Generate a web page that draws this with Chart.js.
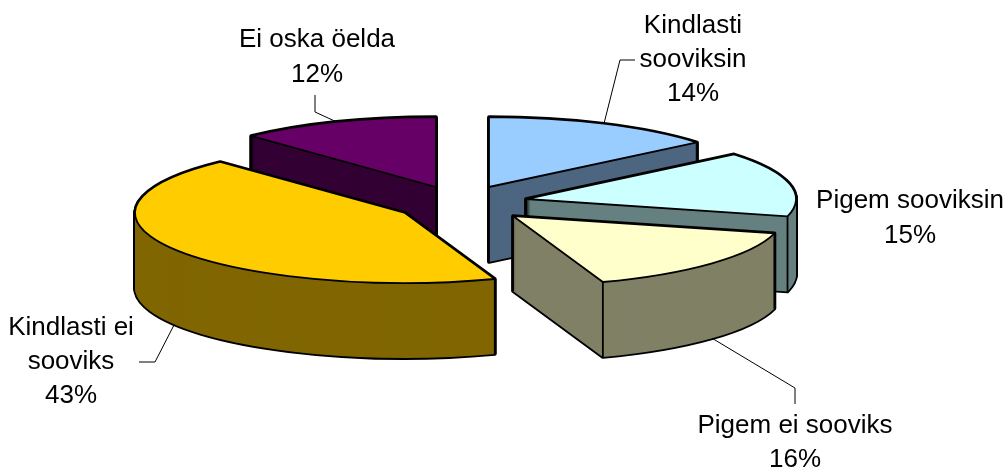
<!DOCTYPE html>
<html><head><meta charset="utf-8">
<script src="https://cdn.jsdelivr.net/npm/chart.js@4"></script>
<style>html,body{margin:0;padding:0;background:#fff}canvas{display:block}</style>
</head><body><canvas id="c" width="1006" height="468"></canvas>
<script>
const categories = ["Kindlasti sooviksin","Pigem sooviksin","Pigem ei sooviks","Kindlasti ei sooviks","Ei oska öelda"];
const percentLabels = ["14%","15%","16%","43%","12%"];
// unrounded shares; they round to the printed labels
const shares = [14,15,15.6,43.4,12];
const topColors = ["#99CCFF","#CCFFFF","#FFFFCC","#FFCC00","#660066"];
const wallColors = ["#4D6680","#668080","#808066","#806600","#330033"];

// view settings (pseudo-3D tilt, wall depth, slice explosion)
const tilt = 70/270, wallDepth = 75, pieRadius = 270;
const explodeX = [29,66,53,-55,-24];
const explodeY = [-16.5,-4.5,12.5,9.5,-16.5];
const paintOrder = [4,3,0,1,2];
const FONT = '26px "Liberation Sans", Arial, sans-serif';
const labelLayout = [
  {lines:["Kindlasti","sooviksin"],x:693,y:[33,67,101],elbow:[[620,60],[635,60]],front:false},
  {lines:["Pigem sooviksin"],x:910,y:[208,243]},
  {lines:["Pigem ei sooviks"],x:795,y:[433,467],elbow:[[795,388],[795,404]],front:true},
  {lines:["Kindlasti ei","sooviks"],x:71,y:[335,369,403],elbow:[[155,362],[139,362]],front:true},
  {lines:["Ei oska öelda"],x:317,y:[47,82],elbow:[[315,112],[315,95]],front:false}
];

function ellipsePath(ctx,arc,i,dy){
  const cx=arc.x+explodeX[i], cy=arc.y+explodeY[i]+dy;
  ctx.beginPath();
  ctx.moveTo(cx,cy);
  ctx.ellipse(cx,cy,arc.outerRadius,arc.outerRadius*tilt,0,arc.startAngle,arc.endAngle);
  ctx.closePath();
}
function fillArc(ctx,arc,i,dy,color){
  const ghost=Object.create(arc);
  ghost.options=Object.assign({},arc.options,{backgroundColor:color,borderWidth:0,offset:0,spacing:0});
  ctx.save();
  ctx.translate(arc.x+explodeX[i],arc.y+explodeY[i]+dy);
  ctx.scale(1,tilt);
  ctx.translate(-arc.x,-arc.y);
  arc.draw.call(ghost,ctx);
  ctx.restore();
}
function pointOn(arc,i,angle,dy){
  return [arc.x+explodeX[i]+Math.cos(angle)*arc.outerRadius,
          arc.y+explodeY[i]+dy+Math.sin(angle)*arc.outerRadius*tilt];
}
const EPS=1e-6;
const pie3d={
  id:'pie3d',
  beforeDatasetDraw(chart,args){
    const ctx=chart.ctx, arcs=args.meta.data;
    paintOrder.forEach(i=>{
      const arc=arcs[i];
      ctx.save();
      ctx.strokeStyle='#000';ctx.lineJoin='round';ctx.lineWidth=3.6;
      for(let d=0;d<=wallDepth;d+=1){ellipsePath(ctx,arc,i,d);ctx.stroke();}
      for(let d=wallDepth;d>=0;d-=1){fillArc(ctx,arc,i,d,wallColors[i]);}
      ctx.lineWidth=1.8;
      // a vertical edge shows only where a wall face next to it faces the viewer
      const startFace=Math.cos(arc.startAngle)<-EPS, endFace=Math.cos(arc.endAngle)>EPS;
      const corners=[];
      if(startFace||Math.sin(arc.startAngle)>EPS)corners.push(pointOn(arc,i,arc.startAngle,0));
      if(endFace||Math.sin(arc.endAngle)>EPS)corners.push(pointOn(arc,i,arc.endAngle,0));
      if(startFace||endFace)corners.push([arc.x+explodeX[i],arc.y+explodeY[i]]);
      corners.forEach(p=>{ctx.beginPath();ctx.moveTo(p[0],p[1]);ctx.lineTo(p[0],p[1]+wallDepth);ctx.stroke();});
      fillArc(ctx,arc,i,0,topColors[i]);
      ellipsePath(ctx,arc,i,0);ctx.stroke();
      ctx.restore();
    });
    return false;
  },
  afterDatasetsDraw(chart){
    const ctx=chart.ctx, arcs=chart.getDatasetMeta(0).data;
    ctx.save();
    labelLayout.forEach((l,i)=>{
      if(l.elbow){
        const arc=arcs[i], mid=(arc.startAngle+arc.endAngle)/2;
        const a=pointOn(arc,i,mid,l.front?wallDepth:0);
        ctx.strokeStyle='#000';ctx.lineWidth=1;
        ctx.beginPath();ctx.moveTo(a[0],a[1]);
        l.elbow.forEach(p=>ctx.lineTo(p[0],p[1]));
        ctx.stroke();
      }
      ctx.fillStyle='#000';ctx.font=FONT;ctx.textAlign='center';ctx.textBaseline='alphabetic';
      const rows=l.lines.concat([percentLabels[i]]);
      rows.forEach((t,r)=>ctx.fillText(t,l.x,l.y[r]));
    });
    ctx.restore();
  }
};
new Chart(document.getElementById('c'),{
  type:'pie',
  data:{labels:categories,datasets:[{data:shares,backgroundColor:topColors,borderWidth:0}]},
  plugins:[pie3d],
  options:{
    responsive:false,animation:false,radius:pieRadius,
    layout:{padding:{left:0,top:0,right:86,bottom:61}},
    plugins:{legend:{display:false},tooltip:{enabled:false},title:{display:false}}
  }
});
</script></body></html>
